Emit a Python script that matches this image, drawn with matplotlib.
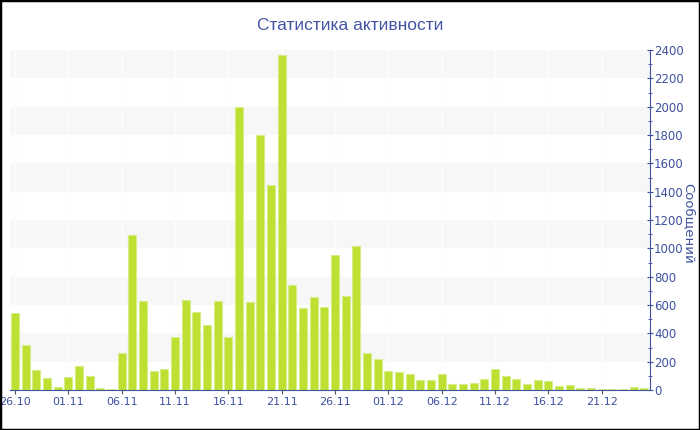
import matplotlib.pyplot as plt
from matplotlib.patches import Rectangle

# Дни (категории) и количество сообщений
dias = ['26.10', '27.10', '28.10', '29.10', '30.10',
        '01.11', '02.11', '03.11', '04.11', '05.11',
        '06.11', '07.11', '08.11', '09.11', '10.11',
        '11.11', '12.11', '13.11', '14.11', '15.11',
        '16.11', '17.11', '18.11', '19.11', '20.11',
        '21.11', '22.11', '23.11', '24.11', '25.11',
        '26.11', '27.11', '28.11', '29.11', '30.11',
        '01.12', '02.12', '03.12', '04.12', '05.12',
        '06.12', '07.12', '08.12', '09.12', '10.12',
        '11.12', '12.12', '13.12', '14.12', '15.12',
        '16.12', '17.12', '18.12', '19.12', '20.12',
        '21.12', '22.12', '23.12', '24.12', '25.12']

mensajes = [541, 318, 141, 82, 19, 89, 169, 99, 16, 9,
            259, 1092, 626, 134, 151, 376, 636, 548, 459, 626,
            374, 1998, 619, 1802, 1445, 2365, 739, 579, 659, 586,
            951, 664, 1014, 259, 219, 136, 127, 113, 73, 73,
            111, 40, 40, 49, 78, 146, 96, 75, 42, 68,
            61, 28, 33, 12, 12, 10, 10, 10, 19, 14]

ticks_y = [0, 200, 400, 600, 800, 1000, 1200, 1400, 1600, 1800, 2000, 2200, 2400]

azul = '#3d51a0'
verde = '#bde032'

fig = plt.figure(figsize=(7, 4.3), dpi=100)
ax = fig.add_axes([10/700, 40/430, 640/700, 340/430])

# Franjas grises alternas
for i in range(1, len(ticks_y) - 1, 2):
    ax.axhspan(ticks_y[i], ticks_y[i + 1], color='#f7f7f7', zorder=0, lw=0)

x = list(range(len(dias)))
pos_ticks = x[::5]
for p in pos_ticks:
    ax.axvline(p, color='#fdfdfd', lw=1, zorder=0.5)

ax.bar(x, mensajes, width=0.74, color=verde, edgecolor='#d6ee85', linewidth=0.8, zorder=2)

ax.set_xlim(-0.47, 59.53)
ax.set_ylim(0, 2400)

ax.set_xticks(pos_ticks)
ax.set_xticklabels([dias[p] for p in pos_ticks])
ax.yaxis.tick_right()
ax.yaxis.set_label_position('right')
ax.set_yticks(ticks_y)
ax.set_yticks(range(100, 2400, 200), minor=True)

for lado in ['top', 'left']:
    ax.spines[lado].set_visible(False)
ax.spines['right'].set_color(azul)
ax.spines['bottom'].set_color(azul)

ax.tick_params(axis='x', colors='#555555', labelcolor=azul, labelsize=8, length=3, pad=2)
ax.tick_params(axis='y', which='major', colors=azul, labelsize=8.5, length=4, direction='inout', pad=1)
ax.tick_params(axis='y', which='minor', colors=azul, length=3, direction='inout')

ax.set_ylabel('Сообщений', color=azul, fontsize=9.5, rotation=270)
ax.yaxis.set_label_coords(1.071, 0.49)

fig.text(0.5, 1 - 25/430, 'Статистика активности', ha='center', va='center',
         color='#4255a3', fontsize=12.5, family='Liberation Sans')

# Marco negro de la imagen
fig.patches.append(Rectangle((0, 0), 1, 1, transform=fig.transFigure,
                             fill=False, edgecolor='black', lw=2.5))

fig.savefig('out.png', dpi=100)
